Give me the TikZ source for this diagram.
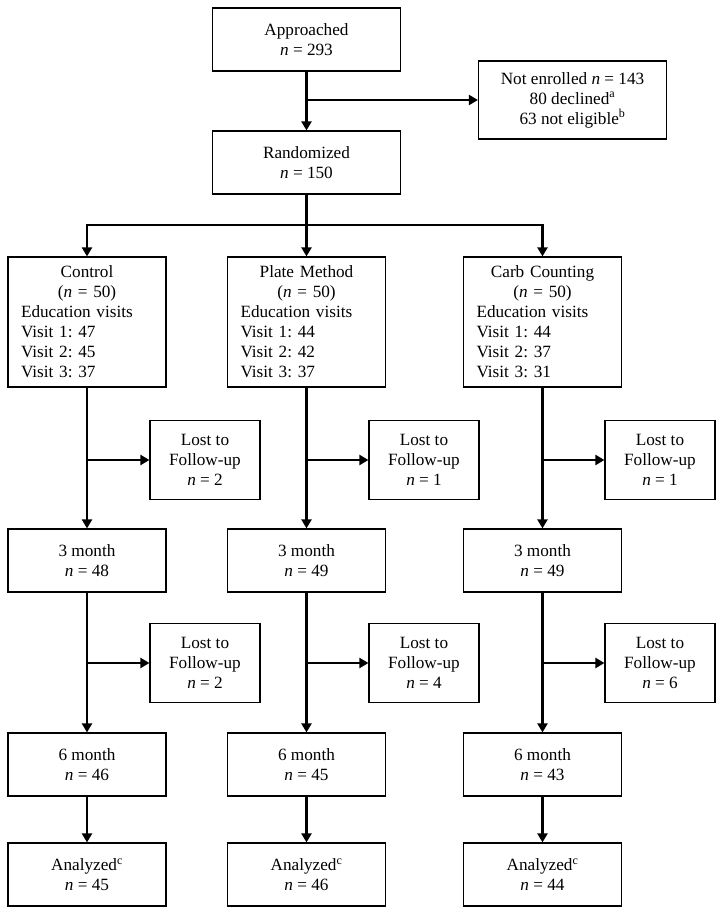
\documentclass[tikz,border=0pt]{standalone}
\usepackage{fontspec}
\setmainfont{Liberation Serif}
\usetikzlibrary{arrows.meta}
\frenchspacing

\begin{document}
\begin{tikzpicture}[x=1pt,y=-1pt,
    box/.style={draw,line width=1.2pt,minimum width=158pt,minimum height=63pt,
      align=center,inner sep=2pt,font=\fontsize{17.2}{20}\selectfont},
    wide/.style={box,minimum width=188pt},
    group/.style={box,minimum height=130pt,text width=132pt,align=left},
    lost/.style={box,minimum width=110pt,minimum height=79pt},
    link/.style={line width=2.3pt},
    flow/.style={link,-{Triangle[length=9pt,width=10pt]}}
  ]
    \useasboundingbox (0,0) rectangle (724,915);

    % enrolment
    \node[wide] (approached) at (306.5,39.5) {Approached\\\textit{n} = 293};
    \node[wide,minimum height=78pt] (notenrolled) at (572.5,100)
      {Not enrolled \textit{n} = 143\\80 declined\textsuperscript{a}\\
       63 not eligible\textsuperscript{b}};
    \node[wide] (randomized) at (306.5,162.5) {Randomized\\\textit{n} = 150};
    \coordinate (split) at (306.5,225);

    % arms
    \node[group] (ctrl) at (87,322)
      {\makebox[\linewidth]{Control}\\\makebox[\linewidth]{(\textit{n} = 50)}\\
       Education visits\\Visit 1: 47\\Visit 2: 45\\Visit 3: 37};
    \node[group] (plate) at (306.5,322)
      {\makebox[\linewidth]{Plate Method}\\\makebox[\linewidth]{(\textit{n} = 50)}\\
       Education visits\\Visit 1: 44\\Visit 2: 42\\Visit 3: 37};
    \node[group] (carb) at (542.5,322)
      {\makebox[\linewidth]{Carb Counting}\\\makebox[\linewidth]{(\textit{n} = 50)}\\
       Education visits\\Visit 1: 44\\Visit 2: 37\\Visit 3: 31};

    % follow-up, control
    \node[lost] (ctrlLostA) at (205,460) {Lost to\\Follow-up\\\textit{n} = 2};
    \node[box] (ctrlThree) at (87,560.5) {3 month\\\textit{n} = 48};
    \node[lost] (ctrlLostB) at (205,663) {Lost to\\Follow-up\\\textit{n} = 2};
    \node[box] (ctrlSix) at (87,764.5) {6 month\\\textit{n} = 46};
    \node[box] (ctrlEnd) at (87,874.5) {Analyzed\textsuperscript{c}\\\textit{n} = 45};

    % follow-up, plate method
    \node[lost] (plateLostA) at (424,460) {Lost to\\Follow-up\\\textit{n} = 1};
    \node[box] (plateThree) at (306.5,560.5) {3 month\\\textit{n} = 49};
    \node[lost] (plateLostB) at (424,663) {Lost to\\Follow-up\\\textit{n} = 4};
    \node[box] (plateSix) at (306.5,764.5) {6 month\\\textit{n} = 45};
    \node[box] (plateEnd) at (306.5,874.5) {Analyzed\textsuperscript{c}\\\textit{n} = 46};

    % follow-up, carb counting
    \node[lost] (carbLostA) at (660,460) {Lost to\\Follow-up\\\textit{n} = 1};
    \node[box] (carbThree) at (542.5,560.5) {3 month\\\textit{n} = 49};
    \node[lost] (carbLostB) at (660,663) {Lost to\\Follow-up\\\textit{n} = 6};
    \node[box] (carbSix) at (542.5,764.5) {6 month\\\textit{n} = 43};
    \node[box] (carbEnd) at (542.5,874.5) {Analyzed\textsuperscript{c}\\\textit{n} = 44};

    % connectors
    \draw[flow] (approached) -- (randomized);
    \draw[flow] (approached.south |- notenrolled.west) -- (notenrolled.west);
    \draw[link] (randomized) -- (split);
    \draw[flow] (split) -| (ctrl);
    \draw[flow] (split) -| (carb);
    \draw[flow] (split) -- (plate);

    \draw[flow] (ctrl) -- (ctrlThree);
    \draw[flow] (ctrl.south |- ctrlLostA.west) -- (ctrlLostA.west);
    \draw[flow] (ctrlThree) -- (ctrlSix);
    \draw[flow] (ctrlThree.south |- ctrlLostB.west) -- (ctrlLostB.west);
    \draw[flow] (ctrlSix) -- (ctrlEnd);

    \draw[flow] (plate) -- (plateThree);
    \draw[flow] (plate.south |- plateLostA.west) -- (plateLostA.west);
    \draw[flow] (plateThree) -- (plateSix);
    \draw[flow] (plateThree.south |- plateLostB.west) -- (plateLostB.west);
    \draw[flow] (plateSix) -- (plateEnd);

    \draw[flow] (carb) -- (carbThree);
    \draw[flow] (carb.south |- carbLostA.west) -- (carbLostA.west);
    \draw[flow] (carbThree) -- (carbSix);
    \draw[flow] (carbThree.south |- carbLostB.west) -- (carbLostB.west);
    \draw[flow] (carbSix) -- (carbEnd);
  \end{tikzpicture}
\end{document}
